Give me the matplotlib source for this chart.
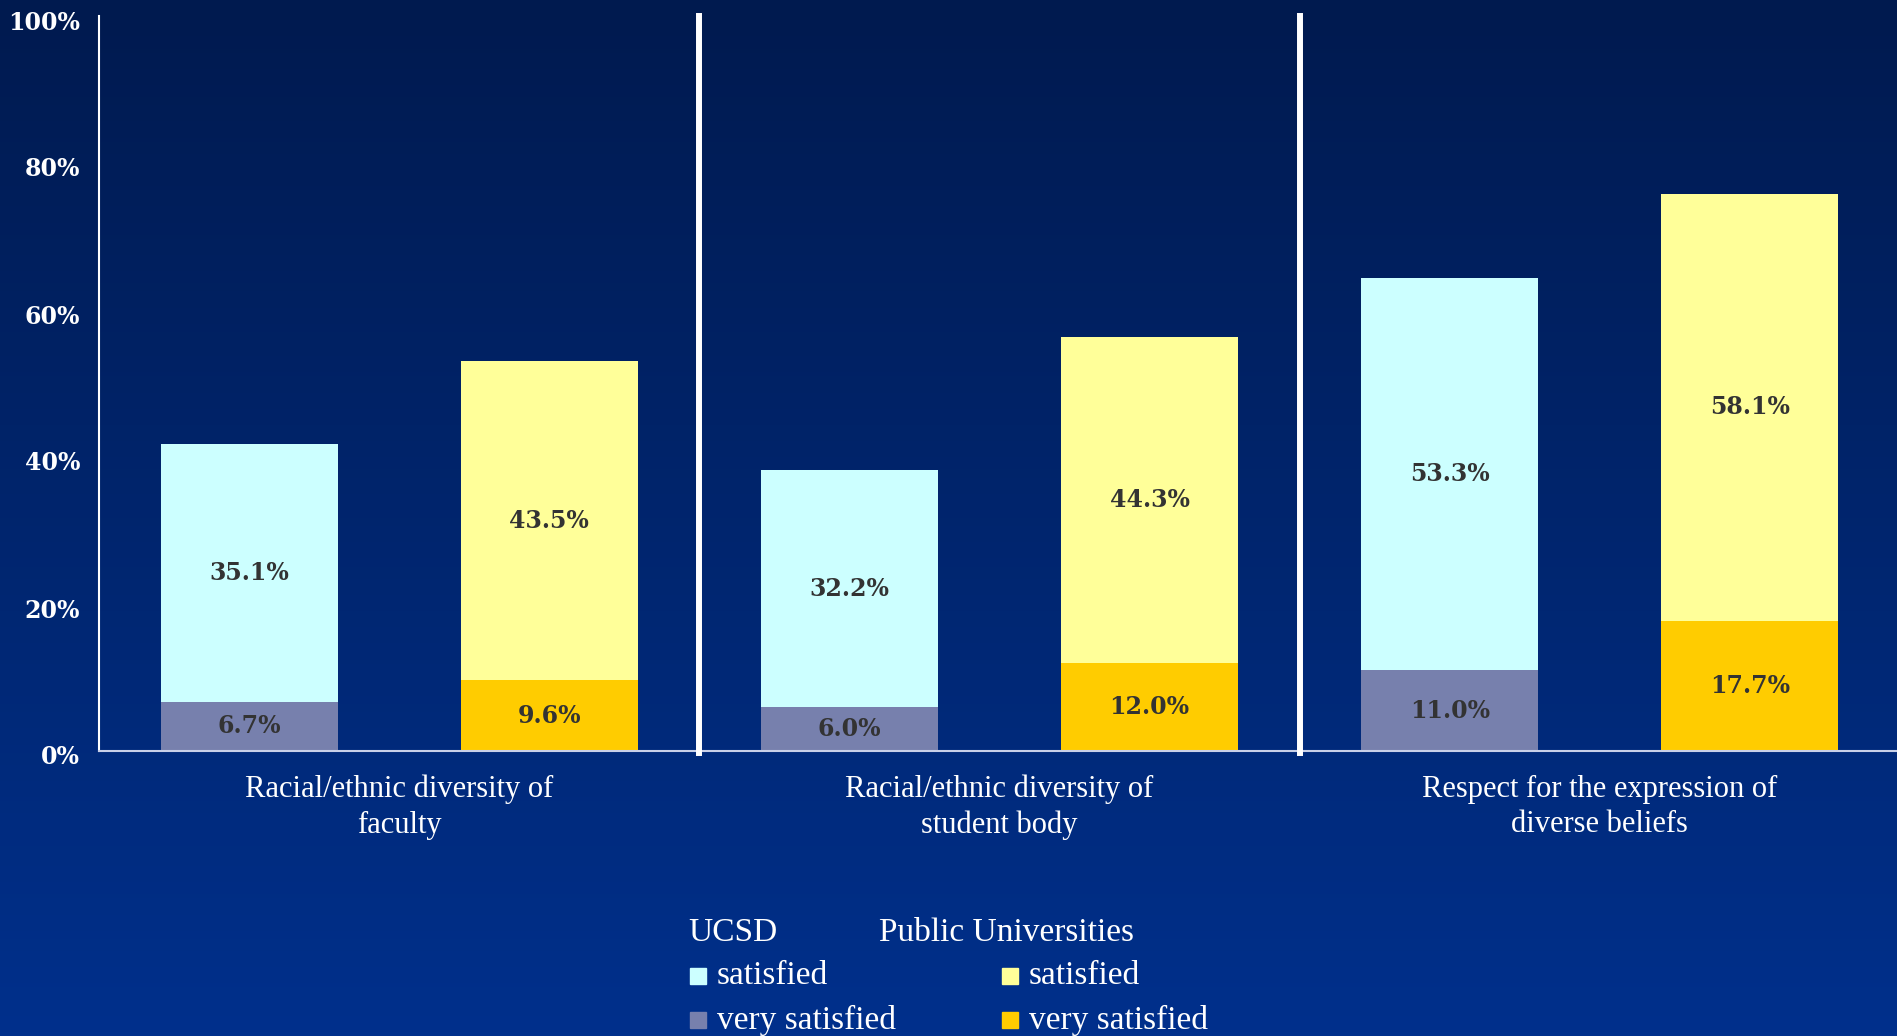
import numpy as np
import matplotlib.pyplot as plt
from matplotlib.patches import Rectangle
from matplotlib.transforms import ScaledTranslation

# data
categories = ["Racial/ethnic diversity of\nfaculty",
              "Racial/ethnic diversity of\nstudent body",
              "Respect for the expression of\ndiverse beliefs"]
ucsd_very = [6.7, 6.0, 11.0]
ucsd_sat = [35.1, 32.2, 53.3]
pub_very = [9.6, 12.0, 17.7]
pub_sat = [43.5, 44.3, 58.1]
yticks = [0, 20, 40, 60, 80, 100]
legend_groups = ["UCSD", "Public Universities"]
legend_items = ["satisfied", "very satisfied"]

c_ucsd_sat = '#CCFFFF'
c_ucsd_very = '#7780AD'
c_pub_sat = '#FFFF99'
c_pub_very = '#FFCC00'
lbl_color = '#333333'

W, H = 1897, 1036
fig = plt.figure(figsize=(W / 100, H / 100), dpi=100)

# background gradient
bg = fig.add_axes([0, 0, 1, 1])
top = np.array([0, 26, 79]) / 255
bot = np.array([0, 48, 140]) / 255
t = np.linspace(0, 1, 256)[:, None]
grad = top[None, :] * (1 - t) + bot[None, :] * t
bg.imshow(grad[:, None, :], aspect='auto', extent=[0, 1, 0, 1])
bg.axis('off')

ax = fig.add_axes([99 / W, 285 / H, (W - 99) / W, 735 / H])
ax.set_facecolor('none')

x_ucsd = np.array([0, 2, 4])
x_pub = x_ucsd + 1
bw = 0.59

ax.bar(x_ucsd, ucsd_very, width=bw, color=c_ucsd_very, zorder=2)
ax.bar(x_ucsd, ucsd_sat, width=bw, bottom=ucsd_very, color=c_ucsd_sat, zorder=2)
ax.bar(x_pub, pub_very, width=bw, color=c_pub_very, zorder=2)
ax.bar(x_pub, pub_sat, width=bw, bottom=pub_very, color=c_pub_sat, zorder=2)

lbl_kw = dict(ha='center', va='center', fontsize=17, color=lbl_color,
              family='DejaVu Serif', fontweight='bold', zorder=3)
for xs, very, sat in [(x_ucsd, ucsd_very, ucsd_sat), (x_pub, pub_very, pub_sat)]:
    for x, v, s in zip(xs, very, sat):
        ax.text(x, v / 2, f"{v:.1f}%", **lbl_kw)
        ax.text(x, v + s / 2, f"{s:.1f}%", **lbl_kw)

ax.set_xlim(-0.5, 5.49)
ax.set_ylim(0, 100)
ax.set_xticks([])
ax.set_yticks(yticks)
ax.set_yticklabels([f"{v}%" for v in yticks], family='DejaVu Serif',
                   fontweight='bold', fontsize=17, color='white')
ax.tick_params(axis='y', length=0, pad=13.5)
shift = ScaledTranslation(0, -4 / 100, fig.dpi_scale_trans)
for lbl in ax.get_yticklabels():
    lbl.set_transform(lbl.get_transform() + shift)

for s in ['top', 'right']:
    ax.spines[s].set_visible(False)
ax.spines['left'].set_color('white')
ax.spines['left'].set_linewidth(1.5)
ax.spines['bottom'].set_color('#c8d0e8')
ax.spines['bottom'].set_linewidth(1.5)

for xs in [1.5, 3.5]:
    ax.axvline(xs, ymin=-0.003, ymax=1.0, color='white', lw=4.3, clip_on=False, zorder=4)

# category labels
for i, cat in enumerate(categories):
    ax.text(2 * i + 0.5, (807 - 751) / -735, cat, transform=ax.get_xaxis_transform(),
            ha='center', va='center', fontsize=22, color='white',
            family='Liberation Serif', linespacing=1.3)

# legend
leg_kw = dict(fontsize=24, color='white', family='Liberation Serif', va='center')
fig.text(688 / W, 1 - 933 / H, legend_groups[0], **leg_kw)
fig.text(879 / W, 1 - 933 / H, legend_groups[1], **leg_kw)
cols = [(690, [c_ucsd_sat, c_ucsd_very]), (1002, [c_pub_sat, c_pub_very])]
rows = [976, 1020]
for xl, colors in cols:
    for yy, col, item in zip(rows, colors, legend_items):
        fig.patches.append(Rectangle((xl / W, 1 - (yy + 8) / H), 16 / W, 16 / H,
                                     transform=fig.transFigure, color=col, zorder=5))
        fig.text((xl + 27) / W, 1 - yy / H, item, **leg_kw)

fig.savefig('out.png', dpi=100)
